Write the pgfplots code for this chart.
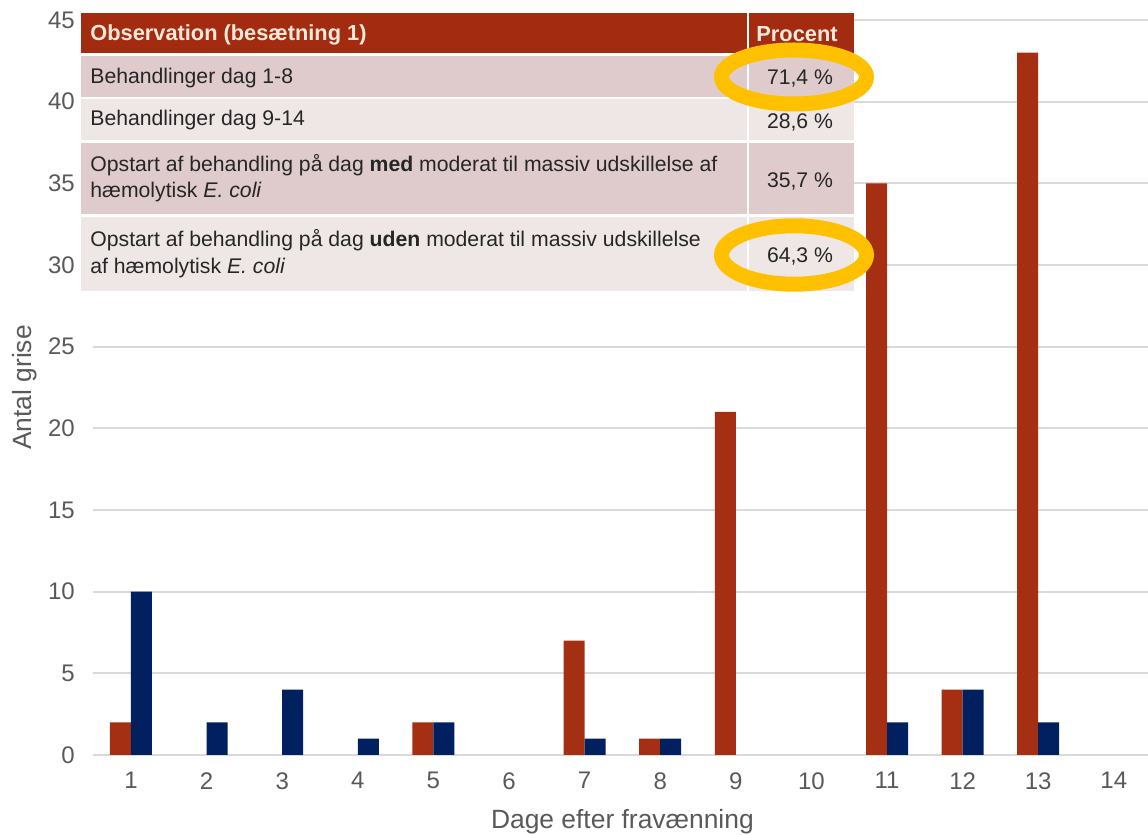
\documentclass[border=0pt]{standalone}
\usepackage{fontspec}
\setmainfont{Liberation Sans}
\usepackage{pgfplots}
\pgfplotsset{compat=1.18}

\definecolor{barred}{HTML}{A52F12}
\definecolor{barnavy}{HTML}{002060}
\definecolor{gridgray}{HTML}{D9D9D9}
\definecolor{labelgray}{HTML}{595959}
\definecolor{hdrred}{HTML}{A32C10}
\definecolor{hdrtext}{HTML}{FBEADC}
\definecolor{rowpink}{HTML}{DFCBCC}
\definecolor{rowlight}{HTML}{EFE7E6}
\definecolor{rowtext}{HTML}{262626}
\definecolor{marker}{HTML}{FFC000}

% Pigs treated per day after weaning
\pgfplotstableread{
day red navy
1   2   10
2   0   2
3   0   4
4   0   1
5   2   2
6   0   0
7   7   1
8   1   1
9   21  0
10  0   0
11  35  2
12  4   4
13  43  2
14  0   0
}\dagedata

\begin{document}
\begin{tikzpicture}
\path[use as bounding box] (0,0) rectangle (574pt,417.5pt);

\begin{axis}[
  at={(46.6pt,40pt)}, anchor=south west,
  scale only axis,
  width=529.2pt, height=367.5pt,
  xmin=0.5, xmax=14.5, ymin=0, ymax=45,
  xtick={1,...,14}, ytick={0,5,...,45},
  ymajorgrids,
  grid style={draw=gridgray, line width=1pt},
  axis line style={draw=none},
  major tick length=0pt,
  tick label style={font=\fontsize{12}{14}\selectfont, text=labelgray},
  /pgf/number format/assume math mode=true,
  yticklabel style={anchor=east, inner sep=0pt, xshift=-9pt},
  xticklabel style={anchor=north, inner sep=0pt, yshift=-8.5pt},
  xlabel={Dage efter fravænning},
  ylabel={Antal grise},
  label style={font=\fontsize{13.2}{15}\selectfont, text=labelgray},
  xlabel style={at={(axis description cs:0.5,-0.0912)}, anchor=center},
  ylabel style={at={(axis description cs:-0.0643,0.5)}, anchor=center},
  clip=false,
  % empty days get no bar at all
  unbounded coords=discard,
  y filter/.expression={y==0 ? nan : y},
]
\addplot[ybar, bar width=10.5pt, bar shift=-5.25pt, fill=barred, draw=none]
  table[x=day, y=red] {\dagedata};
\addplot[ybar, bar width=10.5pt, bar shift=5.25pt, fill=barnavy, draw=none]
  table[x=day, y=navy] {\dagedata};
\end{axis}

% Overlay table, laid out in a top-down grid (1 unit = 0.5pt)
\begin{scope}[shift={(0,417.5pt)}, x=0.5pt, y=-0.5pt,
  every node/.style={font=\fontsize{10.6}{12}\selectfont, text=rowtext, inner sep=0pt}]
  \fill[hdrred]   (81,13)  rectangle (854,53);
  \fill[rowpink]  (81,56)  rectangle (854,97);
  \fill[rowlight] (81,99)  rectangle (854,140);
  \fill[rowpink]  (81,143) rectangle (854,214);
  \fill[rowlight] (81,217) rectangle (854,291);
  \draw[white, line width=1pt] (748,13) -- (748,291);

  \node[anchor=west, text=hdrtext, font=\fontsize{10.9}{12}\selectfont\bfseries] at (90,35) {Observation (besætning 1)};
  \node[text=hdrtext, font=\fontsize{10.9}{12}\selectfont\bfseries] at (797,34) {Procent};

  \node[anchor=west] at (90,78) {Behandlinger dag 1-8};
  \node at (800,79) {71,4 \%};
  \node[anchor=west] at (90,120) {Behandlinger dag 9-14};
  \node at (800,122) {28,6 \%};
  \node[anchor=west] at (90,165) {Opstart af behandling på dag \textbf{med} moderat til massiv udskillelse af};
  \node[anchor=west] at (90,192) {hæmolytisk \textit{E. coli}};
  \node at (800,181) {35,7 \%};
  \node[anchor=west] at (90,240) {Opstart af behandling på dag \textbf{uden} moderat til massiv udskillelse};
  \node[anchor=west] at (90,268) {af hæmolytisk \textit{E. coli}};
  \node at (800,256) {64,3 \%};

  \draw[marker, line width=7.5pt] (794,77) ellipse [x radius=36.25pt, y radius=13.5pt];
  \draw[marker, line width=7.5pt] (794,255) ellipse [x radius=36.25pt, y radius=14.6pt];
\end{scope}
\end{tikzpicture}
\end{document}
